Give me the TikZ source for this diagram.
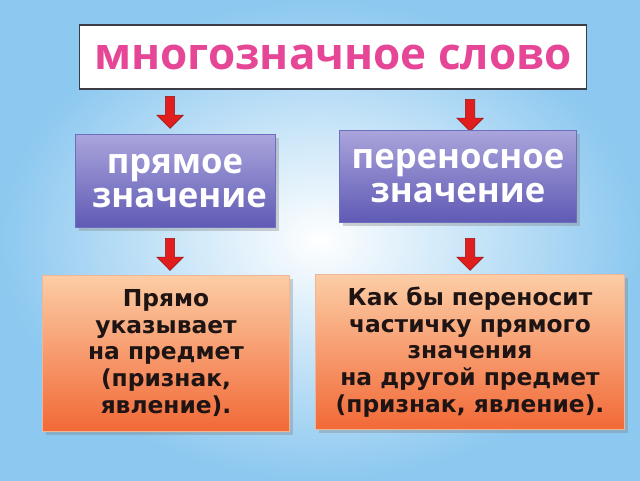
\documentclass[tikz,border=0pt]{standalone}
\usepackage{fontspec}
\setmainfont{DejaVu Sans}
\newfontfamily\ttlfont{Open Sans}
\usetikzlibrary{shapes.arrows,shadows}
\definecolor{bgblue}{RGB}{140,200,240}
\definecolor{ttlpink}{RGB}{230,70,150}
\definecolor{boxtop}{RGB}{170,165,220}
\definecolor{boxbot}{RGB}{95,90,180}
\definecolor{orgtop}{RGB}{252,205,165}
\definecolor{orgbot}{RGB}{242,105,55}
\tikzset{
 x=0.75pt,y=-0.75pt,
 midbox/.style={draw={rgb,255:red,110;green,110;blue,190},line width=0.6pt,top color=boxtop,bottom color=boxbot,
   minimum width=#1,align=center,text=white,font=\ttlfont\bfseries\fontsize{26}{26}\selectfont,drop shadow={opacity=0.35}},
 lowbox/.style={draw={rgb,255:red,240;green,180;blue,150},line width=0.6pt,top color=orgtop,bottom color=orgbot,
   align=center,text={rgb,255:red,30;green,20;blue,20},font=\bfseries\fontsize{17.5}{20}\selectfont,drop shadow={opacity=0.35}},
 redarrow/.style={single arrow,draw={rgb,255:red,150;green,20;blue,20},fill={rgb,255:red,225;green,30;blue,30},
   rotate=-90,minimum height=24pt,minimum width=20pt,single arrow head extend=4pt,inner sep=2pt}
}
\begin{document}
\begin{tikzpicture}
\shade[inner color=white,outer color=bgblue] (0,0) rectangle (640,480);
\useasboundingbox (0,0) rectangle (640,480);
\node[draw={rgb,255:red,60;green,60;blue,70},line width=0.8pt,fill=white,minimum width=380pt,minimum height=48pt,
  text=ttlpink,font=\ttlfont\bfseries\fontsize{33}{35}\selectfont] (title) at (333,57) {многозначное слово};
\node[redarrow] (a1) at (170,110) {};
\node[redarrow] (a2) at (470,113) {};
\node[midbox=150pt,minimum height=70pt] (direct) at (175,181) {прямое\\\ значение};
\node[midbox=178pt,minimum height=69pt] (fig) at (458,176) {переносное\\значение};
\node[redarrow] (a3) at (170,252) {};
\node[redarrow] (a4) at (470,252) {};
\node[lowbox,minimum width=185pt,minimum height=117pt] (ldesc) at (166,353) {Прямо\\указывает\\на предмет\\(признак,\\явление).};
\node[lowbox,minimum width=232pt,minimum height=116pt] (rdesc) at (470,352) {Как бы переносит\\частичку прямого\\значения\\на другой предмет\\(признак, явление).};
\end{tikzpicture}
\end{document}
